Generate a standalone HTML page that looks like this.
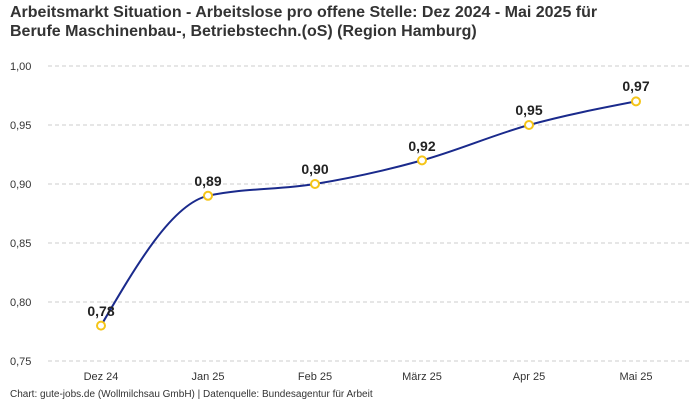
<!DOCTYPE html>
<html><head><meta charset="utf-8"><style>
body{margin:0;background:#fff;width:700px;height:400px;overflow:hidden;font-family:"Liberation Sans",sans-serif}
</style></head><body>
<svg width="700" height="400" xmlns="http://www.w3.org/2000/svg" font-family="Liberation Sans, sans-serif">
<text x="10" y="17" font-size="16" font-weight="bold" fill="#333">Arbeitsmarkt Situation - Arbeitslose pro offene Stelle: Dez 2024 - Mai 2025 für</text>
<text x="10" y="36" font-size="16" font-weight="bold" fill="#333">Berufe Maschinenbau-, Betriebstechn.(oS) (Region Hamburg)</text>
<g stroke="#ccc" stroke-dasharray="4,3" stroke-width="1">
<line x1="48" x2="690" y1="66" y2="66"/><line x1="48" x2="690" y1="125" y2="125"/>
<line x1="48" x2="690" y1="184" y2="184"/><line x1="48" x2="690" y1="243" y2="243"/>
<line x1="48" x2="690" y1="302" y2="302"/><line x1="48" x2="690" y1="361" y2="361"/>
</g>
<g font-size="11" fill="#333">
<text x="10" y="70">1,00</text><text x="10" y="129">0,95</text><text x="10" y="188">0,90</text>
<text x="10" y="247">0,85</text><text x="10" y="306">0,80</text><text x="10" y="365">0,75</text>
</g>
<g font-size="11" fill="#333" text-anchor="middle">
<text x="101" y="380">Dez 24</text><text x="208" y="380">Jan 25</text><text x="315" y="380">Feb 25</text>
<text x="422" y="380">März 25</text><text x="529" y="380">Apr 25</text><text x="636" y="380">Mai 25</text>
</g>
<path d="M101,325.6 C136.67,264.6 172.33,203.65 208,195.8 C243.67,187.95 279.33,189.89 315,184 C350.67,178.11 386.33,170.24 422,160.4 C457.67,150.56 493.33,134.84 529,125 C564.67,115.16 600.33,108.28 636,101.4" fill="none" stroke="#1a2a8c" stroke-width="2"/>
<g fill="#fff" stroke="#f5c518" stroke-width="2">
<circle cx="101" cy="325.6" r="4"/><circle cx="208" cy="195.8" r="4"/><circle cx="315" cy="184" r="4"/>
<circle cx="422" cy="160.4" r="4"/><circle cx="529" cy="125" r="4"/><circle cx="636" cy="101.4" r="4"/>
</g>
<g font-size="14" font-weight="bold" fill="#222" text-anchor="middle">
<text x="101" y="316">0,78</text><text x="208" y="186">0,89</text><text x="315" y="174">0,90</text>
<text x="422" y="151">0,92</text><text x="529" y="115">0,95</text><text x="636" y="91">0,97</text>
</g>
<text x="10" y="397" font-size="10" fill="#333">Chart: gute-jobs.de (Wollmilchsau GmbH) | Datenquelle: Bundesagentur für Arbeit</text>
</svg>
</body></html>
